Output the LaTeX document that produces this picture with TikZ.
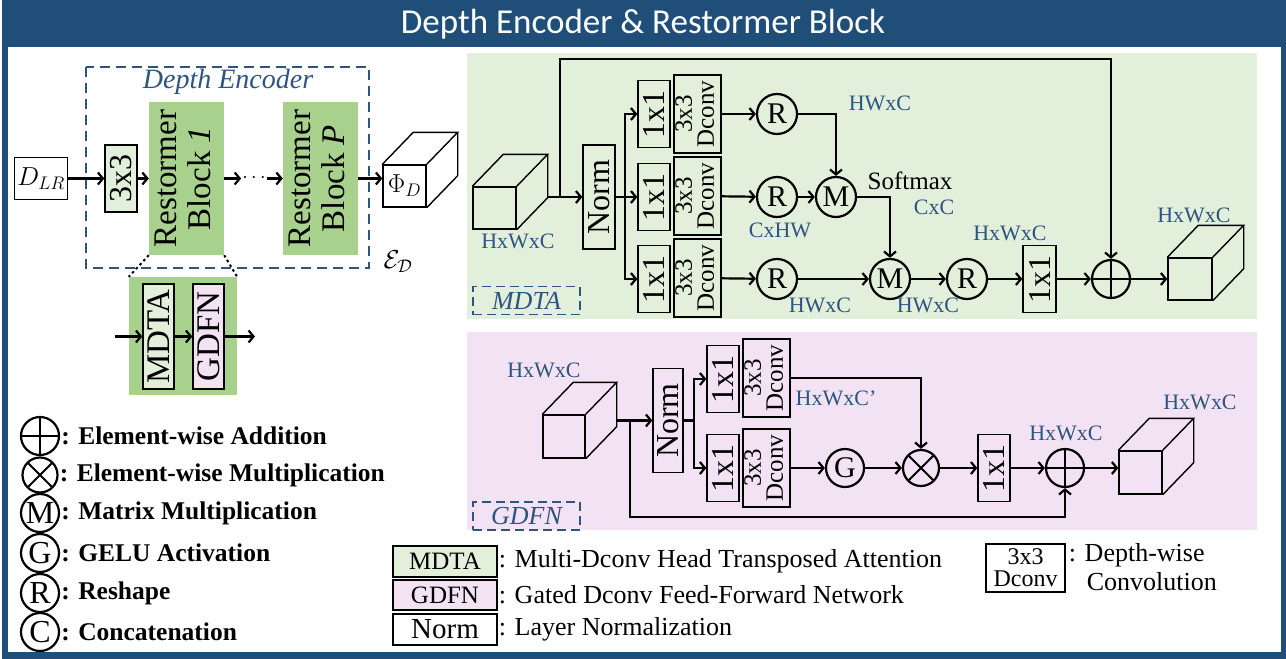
\documentclass[tikz,border=0pt]{standalone}
\usepackage{fix-cm}
\usepackage{fontspec}
\setmainfont{Liberation Serif}
\newfontfamily\titlefont{Carlito}
\usetikzlibrary{arrows.meta, positioning, calc}
\definecolor{titleblue}{RGB}{31,78,121}
\definecolor{dimblue}{RGB}{46,84,128}
\definecolor{mdtabg}{RGB}{226,239,218}
\definecolor{gdfnbg}{RGB}{243,226,243}
\definecolor{rbgreen}{RGB}{169,209,142}
\newcommand{\pxsize}[1]{\fontsize{#1}{#1}\selectfont}
\newcommand{\vtext}[1]{\rotatebox{90}{#1}}
\newcommand{\vtwo}[2]{\rotatebox{90}{\begin{tabular}{@{}c@{}}#1\\#2\end{tabular}}}

\begin{document}
\begin{tikzpicture}[x=1pt, y=-1pt,
    box/.style={rectangle, draw, line width=1.3pt, inner sep=0pt},
    onebox/.style={box, minimum width=32pt, minimum height=67pt, font=\pxsize{32}},
    dconv/.style={box, minimum width=47pt, minimum height=78pt, font={\fontsize{25}{19}\selectfont}},
    normbox/.style={box, minimum width=32pt, minimum height=104pt, font=\pxsize{32}},
    restblock/.style={rectangle, fill=rbgreen, minimum width=75pt, minimum height=153pt, inner sep=0pt, font={\fontsize{33}{34}\selectfont}},
    subblock/.style={box, minimum width=31pt, minimum height=105pt, font=\pxsize{33}},
    face/.style={rectangle, draw, line width=1.4pt, inner sep=0pt},
    circ/.style={circle, draw, line width=2.2pt, minimum size=40pt, inner sep=0pt, font=\pxsize{30}},
    oplus/.style={circ, minimum size=38pt, path picture={\draw[line width=2pt]
        (path picture bounding box.north) -- (path picture bounding box.south)
        (path picture bounding box.west) -- (path picture bounding box.east);}},
    otimes/.style={circ, minimum size=36pt, path picture={\draw[line width=2pt]
        (path picture bounding box.north west) -- (path picture bounding box.south east)
        (path picture bounding box.north east) -- (path picture bounding box.south west);}},
    arr/.style={line width=2.2pt, -{Straight Barb[length=5pt,width=12pt]}},
    wire/.style={line width=2.2pt},
    dim/.style={text=dimblue, font=\pxsize{22}, inner sep=0pt},
    tag/.style={draw=dimblue, dash pattern=on 9pt off 5pt, line width=1.3pt, minimum width=107pt, minimum height=28pt, inner sep=0pt, text=dimblue, font=\pxsize{26}\itshape},
    lgtext/.style={anchor=west, inner sep=1pt, font=\pxsize{25.5}\bfseries},
    keytext/.style={anchor=west, inner sep=1pt, font=\pxsize{26}}
]
\useasboundingbox (0,0) rectangle (1286,659);
% --- frame and title ---
\fill[white] (0,0) rectangle (1286,659);
\fill[titleblue] (2,0) rectangle (1286,659);
\fill[white] (8,47) rectangle (1281,652);
\node[text=white, font=\titlefont\pxsize{35}] (title) at (643,24) {Depth Encoder \& Restormer Block};

% --- panels ---
\fill[mdtabg] (467,53) rectangle (1257,319);
\fill[gdfnbg] (467,332) rectangle (1257,530);

% --- Depth encoder ---
\draw[dimblue, dash pattern=on 10pt off 6pt, line width=1.3pt] (86,67) rectangle (369,268);
\node[text=dimblue, font=\pxsize{28}\itshape] (enclbl) at (228,82) {Depth Encoder};
\node[face, line width=1.5pt, minimum width=53pt, minimum height=42pt, font=\pxsize{26}] (dlr) at (41,178.5) {$D_{LR}$};
\node[onebox, fill=mdtabg] (k3) at (121,178.5) {\vtext{3x3}};
\node[restblock] (rb1) at (186.5,178.5) {\vtwo{Restormer}{Block \textit{1}}};
\node[restblock] (rbp) at (320.5,178.5) {\vtwo{Restormer}{Block \textit{P}}};
\node[inner sep=1pt, font=\pxsize{20}] (dots) at (254,178.5) {$\cdots$};
\node[face, minimum width=43pt, minimum height=42pt, font=\pxsize{26}] (phi) at (404.5,186) {$\Phi_D$};
\node[font=\pxsize{26}] (eps) at (398,262) {$\mathcal{E}_{\mathcal{D}}$};
\draw[arr] (dlr) -- (k3);
\draw[arr] (k3) -- (rb1);
\draw[arr] (rb1) -- (dots);
\draw[arr] (dots) -- (rbp);
\draw[arr] (rbp) -- (rbp -| phi.west);

% zoomed block
\node[rectangle, fill=rbgreen, minimum width=108pt, minimum height=118pt] (rbz) at (183,336) {};
\node[subblock, fill=mdtabg] (mdz) at (158.5,336.5) {\vtext{MDTA}};
\node[subblock, fill=gdfnbg] (gdz) at (208.5,336.5) {\vtext{GDFN}};
\coordinate (zin) at (115,336.5);
\coordinate (zout) at (255,336.5);
\draw[arr] (zin) -- (mdz);
\draw[arr] (mdz) -- (gdz);
\draw[arr] (gdz) -- (zout);
\draw[line width=2pt, dash pattern=on 2.5pt off 3pt] (rb1.south west) -- (rbz.north west);
\draw[line width=2pt, dash pattern=on 2.5pt off 3pt] (rb1.south east) -- (rbz.north east);

% --- MDTA ---
\node[face, minimum width=43pt, minimum height=42pt] (mcin) at (494.5,208) {};
\node[face, minimum width=44pt, minimum height=42pt] (mcout) at (1190,279) {};
\node[normbox] (norm1) at (599,197) {\vtext{Norm}};
\node[onebox] (q1) at (654,114) {\vtext{1x1}};
\node[onebox] (k1) at (654,197) {\vtext{1x1}};
\node[onebox] (v1) at (654,279) {\vtext{1x1}};
\node[dconv] (q2) at (697.5,114) {\vtwo{3x3}{Dconv}};
\node[dconv] (k2) at (697.5,196) {\vtwo{3x3}{Dconv}};
\node[dconv] (v2) at (697.5,278) {\vtwo{3x3}{Dconv}};
\node[circ] (rq) at (777,114) {R};
\node[circ] (rk) at (777,197) {R};
\node[circ] (rv) at (777,279) {R};
\node[circ] (mm1) at (836,197) {M};
\node[circ] (mm2) at (890,279) {M};
\node[circ] (rr) at (967,279) {R};
\node[onebox, minimum width=33pt] (o1) at (1039.5,279) {\vtext{1x1}};
\node[oplus] (madd) at (1111,279) {};
\coordinate (m_in) at (547,197);
\coordinate (m_skip) at (560,197);
\coordinate (m_top) at (560,59);
\coordinate (m_br) at (625,197);
\draw[arr] (m_in) -- (norm1);
\draw[wire] (norm1) -- (m_br);
\draw[arr] (m_br) |- (q1);
\draw[arr] (m_br) -- (k1);
\draw[arr] (m_br) |- (v1);
\draw[arr] (q2) -- (rq);
\draw[arr] (k2) -- (rk);
\draw[arr] (v2) -- (rv);
\draw[arr] (rq) -| (mm1);
\draw[arr] (rk) -- (mm1);
\draw[arr] (mm1) -| (mm2);
\draw[arr] (rv) -- (mm2);
\draw[arr] (mm2) -- (rr);
\draw[arr] (rr) -- (o1);
\draw[arr] (o1) -- (madd);
\draw[arr] (madd) -- (madd -| mcout.west);
\draw[arr] (m_skip) -- (m_top) -| (madd);
\node[dim] (mlbl1) at (518,241) {HxWxC};
\node[dim] (mlbl2) at (880,103) {HWxC};
\node[dim] (mlbl3) at (780,230) {CxHW};
\node[dim] (mlbl4) at (820,305) {HWxC};
\node[dim] (mlbl5) at (928,305) {HWxC};
\node[dim] (mlbl6) at (934,207) {CxC};
\node[dim] (mlbl7) at (1010,233) {HxWxC};
\node[dim] (mlbl8) at (1194,215) {HxWxC};
\node[inner sep=0pt, font=\pxsize{25}] (softmax) at (910,181) {Softmax};
\node[tag] (mtag) at (526.5,300.5) {MDTA};

% --- GDFN ---
\node[face, minimum width=42pt, minimum height=43pt] (gcin) at (564,436.5) {};
\node[face, minimum width=43pt, minimum height=43pt] (gcout) at (1140.5,472.5) {};
\node[normbox, minimum width=30pt] (norm2) at (668,420.5) {\vtext{Norm}};
\node[onebox] (ga1) at (723,379) {\vtext{1x1}};
\node[onebox] (gb1) at (723,468) {\vtext{1x1}};
\node[dconv] (ga2) at (766.5,378) {\vtwo{3x3}{Dconv}};
\node[dconv] (gb2) at (766.5,468) {\vtwo{3x3}{Dconv}};
\node[circ, minimum size=38pt] (gelu) at (845,468) {G};
\node[otimes] (gmul) at (921,468) {};
\node[onebox] (go1) at (994,468) {\vtext{1x1}};
\node[oplus] (gadd) at (1065,468) {};
\coordinate (g_in) at (616,420.5);
\coordinate (g_skip) at (630,420.5);
\coordinate (g_bot) at (630,517);
\coordinate (g_br) at (694,420.5);
\draw[arr] (g_in) -- (norm2);
\draw[wire] (norm2) -- (g_br);
\draw[arr] (g_br) |- (ga1);
\draw[arr] (g_br) |- (gb1);
\draw[arr] (ga2) -| (gmul);
\draw[arr] (gb2) -- (gelu);
\draw[arr] (gelu) -- (gmul);
\draw[arr] (gmul) -- (go1);
\draw[arr] (go1) -- (gadd);
\draw[arr] (gadd) -- (gadd -| gcout.west);
\draw[arr] (g_skip) -- (g_bot) -| (gadd);
\node[dim] (glbl1) at (544,370) {HxWxC};
\node[dim] (glbl2) at (836,398) {HxWxC'};
\node[dim] (glbl3) at (1066,433) {HxWxC};
\node[dim] (glbl4) at (1200,402) {HxWxC};
\node[tag] (gtag) at (526.5,516) {GDFN};

% cube depth
\foreach \c in {phi, mcin, mcout, gcin, gcout}
  \draw[line width=1.4pt] (\c.north west) -- ++(31,-32) -- ($(\c.north east)+(31,-32)$) -- (\c.north east)
    ($(\c.north east)+(31,-32)$) -- ($(\c.south east)+(31,-32)$) -- (\c.south east);

% --- legend (symbols) ---
\node[oplus] (lgadd) at (40,436) {};
\node[otimes, minimum size=35pt] (lgmul) at (40,475) {};
\node[circ, minimum size=38pt, font=\pxsize{32}] (lgmat) at (40,513) {M};
\node[circ, minimum size=38pt, font=\pxsize{32}] (lggelu) at (40,553) {G};
\node[circ, minimum size=38pt, font=\pxsize{32}] (lgres) at (40,593) {R};
\node[circ, minimum size=38pt, font=\pxsize{32}] (lgcat) at (40,632) {C};
\node[lgtext] (lgaddt) at (lgadd.east) {: Element-wise Addition};
\node[lgtext] (lgmult) at (lgmul.east) {: Element-wise Multiplication};
\node[lgtext] (lgmatt) at (lgmat.east) {: Matrix Multiplication};
\node[lgtext] (lggelut) at (lggelu.east) {: GELU Activation};
\node[lgtext] (lgrest) at (lgres.east) {: Reshape};
\node[lgtext] (lgcatt) at (lgcat.east) {: Concatenation};

% --- legend (boxes) ---
\node[box, fill=mdtabg, minimum width=104pt, minimum height=31pt, font=\pxsize{25}] (kmdta) at (445,561.5) {MDTA};
\node[box, fill=gdfnbg, minimum width=104pt, minimum height=30pt, font=\pxsize{25}] (kgdfn) at (445,595) {GDFN};
\node[box, minimum width=104pt, minimum height=31pt, font=\pxsize{29}] (knorm) at (445,629.5) {Norm};
\node[keytext] (kmdtat) at (kmdta.east) {: Multi-Dconv Head Transposed Attention};
\node[keytext] (kgdfnt) at (kgdfn.east) {: Gated Dconv Feed-Forward Network};
\node[keytext] (knormt) at (knorm.east) {: Layer Normalization};
\node[box, minimum width=79pt, minimum height=48pt, align=center, font={\fontsize{24}{22}\selectfont}] (kdconv) at (1025.5,568) {3x3\\Dconv};
\node[keytext] (kdwt) at ($(kdconv.east)+(2,-13)$) {: Depth-wise};
\node[keytext] (kcvt) at ($(kdconv.east)+(20,14)$) {Convolution};
\end{tikzpicture}
\end{document}
